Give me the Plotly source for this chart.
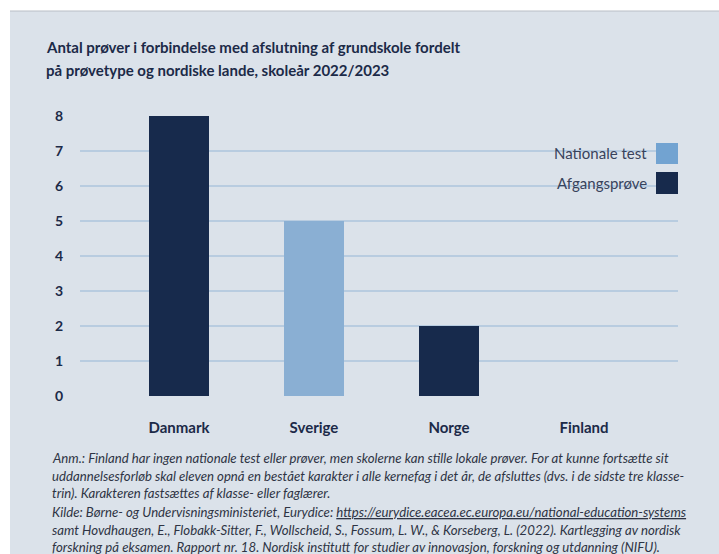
import plotly.graph_objects as go

# ---- data ----
countries = ["Danmark", "Sverige", "Norge", "Finland"]
nationale_test = [None, 5, None, None]
afgangsprove = [8, None, 2, None]
y_ticks = [0, 1, 2, 3, 4, 5, 6, 7, 8]
series_names = ["Nationale test", "Afgangsprøve"]

title_lines = [
    "Antal prøver i forbindelse med afslutning af grundskole fordelt",
    "på prøvetype og nordiske lande, skoleår 2022/2023",
]
note_lines = [
    "Anm.: Finland har ingen nationale test eller prøver, men skolerne kan stille lokale prøver. For at kunne fortsætte sit",
    "uddannelsesforløb skal eleven opnå en bestået karakter i alle kernefag i det år, de afsluttes (dvs. i de sidste tre klasse-",
    "trin). Karakteren fastsættes af klasse- eller faglærer.",
    "Kilde: Børne- og Undervisningsministeriet, Eurydice: <u>https://eurydice.eacea.ec.europa.eu/national-education-systems</u>",
    "samt Hovdhaugen, E., Flobakk-Sitter, F., Wollscheid, S., Fossum, L. W., & Korseberg, L. (2022). Kartlegging av nordisk",
    "forskning på eksamen. Rapport nr. 18. Nordisk institutt for studier av innovasjon, forskning og utdanning (NIFU).",
]

# ---- styling ----
W, H = 719, 554
PL, PR, PT, PB = 80, 678, 116, 396  # plot area in pixels
BG = "#dbe2ea"
GRID = "#b8cce0"
DARK = "#172a4c"
LIGHT = "#8aafd3"
LIGHT_SW = "#72a3d1"
TXT = "#1c2a48"
NOTE = "#2e3444"
FONT = "Lato"


def px(x):
    return (x - PL) / (PR - PL)


def py(y):
    return (PB - y) / (PB - PT)


fig = go.Figure()
fig.add_trace(go.Bar(x=countries, y=nationale_test, name=series_names[0],
                     marker=dict(color=LIGHT, line=dict(width=0)), width=0.444))
fig.add_trace(go.Bar(x=countries, y=afgangsprove, name=series_names[1],
                     marker=dict(color=DARK, line=dict(width=0)), width=0.444))

shapes = [
    # card background
    dict(type="rect", xref="paper", yref="paper", x0=px(10), x1=px(730),
         y0=py(570), y1=py(11), fillcolor=BG, line=dict(width=0), layer="below"),
    dict(type="line", xref="paper", yref="paper", x0=px(10), x1=px(730),
         y0=py(11), y1=py(11), line=dict(color="#b9bec6", width=1), layer="below"),
    # legend background covering the grid
    dict(type="rect", xref="paper", yref="paper", x0=px(541), x1=px(684),
         y0=py(206), y1=py(130), fillcolor=BG, line=dict(width=0), layer="between"),
    # legend swatches
    dict(type="rect", xref="paper", yref="paper", x0=px(656), x1=px(678),
         y0=py(164), y1=py(143), fillcolor=LIGHT_SW, line=dict(width=0)),
    dict(type="rect", xref="paper", yref="paper", x0=px(656), x1=px(678),
         y0=py(194), y1=py(172), fillcolor=DARK, line=dict(width=0)),
]

annotations = []
for i, t in enumerate(title_lines):
    annotations.append(dict(text=t, xref="paper", yref="paper", x=px(44), y=py([47, 70][i]),
                            xanchor="left", yanchor="middle", showarrow=False,
                            font=dict(family=FONT, size=15, color=TXT, weight="bold")))
for name, yy in zip(series_names, [153, 183]):
    annotations.append(dict(text=name, xref="paper", yref="paper", x=px(649), y=py(yy),
                            xanchor="right", yanchor="middle", showarrow=False,
                            font=dict(family=FONT, size=15, color="#38435c")))
note_y = [458, 476, 493, 512, 530, 547]
for t, yy in zip(note_lines, note_y):
    annotations.append(dict(text="<i>" + t + "</i>", xref="paper", yref="paper", x=px(50), y=py(yy),
                            xanchor="left", yanchor="middle", showarrow=False,
                            font=dict(family=FONT, size=13.2, color=NOTE)))

fig.update_layout(
    width=W, height=H,
    margin=dict(l=PL, r=W - PR, t=PT, b=H - PB, pad=0),
    paper_bgcolor="white", plot_bgcolor="rgba(0,0,0,0)",
    barmode="overlay", bargap=0,
    showlegend=False,
    shapes=shapes, annotations=annotations,
    font=dict(family=FONT, color=TXT),
    xaxis=dict(range=[-0.733, 3.696], showgrid=False, zeroline=False, showline=False,
               ticks="", ticklabelstandoff=21,
               tickfont=dict(family=FONT, size=15, color=TXT, weight="bold")),
    yaxis=dict(range=[0, 8], tickvals=y_ticks, showgrid=True, gridcolor=GRID, gridwidth=1.5,
               zeroline=False, showline=False, ticks="", ticklabelstandoff=16,
               tickfont=dict(family=FONT, size=14, color=TXT, weight="bold")),
)

fig.write_html("out.html", config={"displayModeBar": False},
               post_script="document.body.style.margin='0';document.body.style.overflow='hidden';")
